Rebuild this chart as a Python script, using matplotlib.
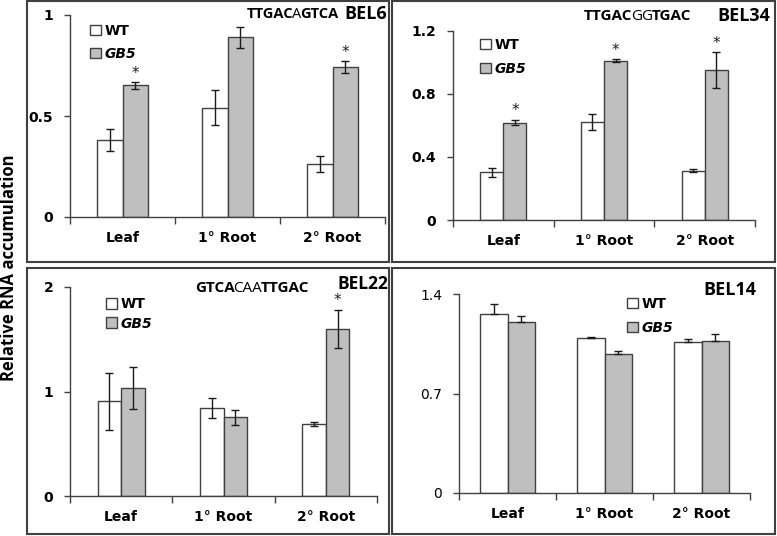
import numpy as np
import matplotlib
matplotlib.use('Agg')
import matplotlib.pyplot as plt
from matplotlib.patches import Rectangle

W, H = 777, 536

cats = ['Leaf', '1° Root', '2° Root']

# BEL6
bel6_wt = [0.383, 0.542, 0.263]
bel6_wt_err = [0.054, 0.089, 0.039]
bel6_gb5 = [0.651, 0.889, 0.742]
bel6_gb5_err = [0.017, 0.052, 0.029]
bel6_star = [True, False, True]

# BEL34
bel34_wt = [0.302, 0.623, 0.313]
bel34_wt_err = [0.031, 0.053, 0.008]
bel34_gb5 = [0.619, 1.012, 0.953]
bel34_gb5_err = [0.018, 0.010, 0.112]
bel34_star = [True, True, True]

# BEL22
bel22_wt = [0.906, 0.845, 0.692]
bel22_wt_err = [0.27, 0.097, 0.02]
bel22_gb5 = [1.033, 0.753, 1.598]
bel22_gb5_err = [0.20, 0.07, 0.183]
bel22_star = [False, False, True]

# BEL14 (upper error only)
bel14_wt = [1.261, 1.087, 1.061]
bel14_wt_err = [0.068, 0.014, 0.021]
bel14_gb5 = [1.200, 0.976, 1.071]
bel14_gb5_err = [0.042, 0.026, 0.045]
bel14_star = [False, False, False]

EDGE = '#404040'
GREY = '#bfbfbf'
TICKFONT = 'DejaVu Sans'
TXTFONT = 'Open Sans'

fig = plt.figure(figsize=(W / 100, H / 100), dpi=100)
renderer = fig.canvas.get_renderer()


def box(x0, y0, x1, y1):
    fig.add_artist(Rectangle((x0 / W, 1 - y1 / H), (x1 - x0) / W, (y1 - y0) / H,
                             transform=fig.transFigure, fill=False,
                             ec=EDGE, lw=1.5))


def seq_text(x, y, pieces, size=11):
    for s, bold in pieces:
        t = fig.text(x / W, 1 - y / H, s, ha='left', va='center', family=TXTFONT,
                     fontsize=size, fontweight='bold' if bold else 'normal')
        x += t.get_window_extent(renderer).width - 1.5


def panel(left, right, y0, y1, ymax, yticks, ylabels, wt, wte, gb, gbe, star,
          width, leg_xy, leg_sp, upper_only=False, ybold=True):
    ax = fig.add_axes([left / W, 1 - y0 / H, (right - left) / W, (y0 - y1) / H])
    x = np.arange(3) + 0.5
    if upper_only:
        e1 = [[0, 0, 0], wte]
        e2 = [[0, 0, 0], gbe]
    else:
        e1, e2 = wte, gbe
    ek = dict(ecolor='#1a1a1a', elinewidth=1, capthick=1, capsize=3)
    b1 = ax.bar(x - width / 2, wt, width, color='white', edgecolor=EDGE, lw=1,
                yerr=e1, error_kw=ek, label='WT')
    b2 = ax.bar(x + width / 2, gb, width, color=GREY, edgecolor=EDGE, lw=1,
                yerr=e2, error_kw=ek, label='GB5')
    for i in range(3):
        if star[i]:
            ax.annotate('*', (x[i] + width / 2, gb[i] + gbe[i]), xytext=(0, 1),
                        textcoords='offset points', ha='center', va='bottom',
                        fontsize=11, family=TICKFONT, color='#1a1a1a')
    ax.set_xlim(0, 3)
    ax.set_ylim(0, ymax)
    ax.set_xticks([0, 1, 2, 3])
    ax.set_xticklabels([])
    ax.set_xticks(x, minor=True)
    ax.set_xticklabels(cats, minor=True, fontsize=10, fontweight='bold',
                       family=TICKFONT)
    ax.tick_params(axis='x', which='major', length=5, width=1, color=EDGE)
    ax.tick_params(axis='x', which='minor', length=0, pad=10)
    ax.set_yticks(yticks)
    ax.set_yticklabels(ylabels, fontsize=10, family=TICKFONT,
                       fontweight='bold' if ybold else 'normal')
    ax.tick_params(axis='y', length=4, width=1, color=EDGE, pad=8)
    for s in ['top', 'right']:
        ax.spines[s].set_visible(False)
    for s in ['left', 'bottom']:
        ax.spines[s].set_color(EDGE)
        ax.spines[s].set_linewidth(1)
    ax.patch.set_visible(False)
    leg = ax.legend(handles=[b1, b2], labels=['WT', 'GB5'], loc='upper left',
                    bbox_to_anchor=leg_xy, frameon=False, borderpad=0,
                    handlelength=0.8, handleheight=0.8, handletextpad=0.25,
                    labelspacing=leg_sp,
                    prop={'weight': 'bold', 'size': 10, 'family': TICKFONT})
    leg.get_texts()[1].set_style('italic')
    return ax


box(27, 1, 389, 262)
box(392, 1, 775, 262)
box(27, 268, 389, 534)
box(392, 268, 775, 534)

panel(70, 385, 217, 15, 1.0, [0, 0.5, 1], ['0', '0.5', '1'],
      bel6_wt, bel6_wt_err, bel6_gb5, bel6_gb5_err, bel6_star, 0.24,
      (0.04, 0.99), 0.65)
panel(453, 755, 220, 31, 1.2, [0, 0.4, 0.8, 1.2], ['0', '0.4', '0.8', '1.2'],
      bel34_wt, bel34_wt_err, bel34_gb5, bel34_gb5_err, bel34_star, 0.23,
      (0.066, 1.0), 0.7)
panel(70, 377, 496, 287, 2.0, [0, 1, 2], ['0', '1', '2'],
      bel22_wt, bel22_wt_err, bel22_gb5, bel22_gb5_err, bel22_star, 0.23,
      (0.094, 0.985), 0.4)
panel(459, 750, 493, 294, 1.4, [0, 0.7, 1.4], ['0', '0.7', '1.4'],
      bel14_wt, bel14_wt_err, bel14_gb5, bel14_gb5_err, bel14_star, 0.285,
      (0.553, 1.02), 0.7, upper_only=True, ybold=False)

# titles and motif sequences
seq_text(247, 14, [('TTGAC', True), ('A', False), ('GTCA', True)], size=10.5)
fig.text(387 / W, 1 - 14 / H, 'BEL6', ha='right', va='center', family=TXTFONT,
         fontsize=13, fontweight='bold')
seq_text(584, 16, [('TTGAC', True), ('GG', False), ('TGAC', True)])
fig.text(770 / W, 1 - 16 / H, 'BEL34', ha='right', va='center', family=TXTFONT,
         fontsize=13, fontweight='bold')
seq_text(195, 288, [('GTCA', True), ('CAA', False), ('TTGAC', True)])
fig.text(388 / W, 1 - 284 / H, 'BEL22', ha='right', va='center', family=TXTFONT,
         fontsize=12.5, fontweight='bold')
fig.text(756 / W, 1 - 290 / H, 'BEL14', ha='right', va='center', family=TXTFONT,
         fontsize=13, fontweight='bold')

fig.text(9 / W, 1 - 268 / H, 'Relative RNA accumulation', rotation=90,
         ha='center', va='center', family=TXTFONT, fontsize=12,
         fontweight='bold')

fig.savefig('out.png', dpi=100)
